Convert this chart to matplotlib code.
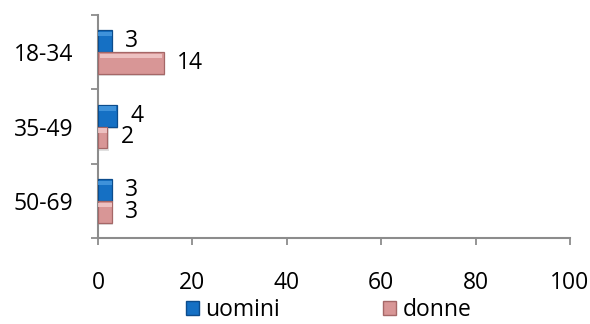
import matplotlib
matplotlib.use("Agg")
import matplotlib.pyplot as plt
from matplotlib.patches import Patch
import numpy as np

plt.rcParams['font.family'] = ['Open Sans', 'DejaVu Sans']

categories = ["18-34", "35-49", "50-69"]
uomini = [3, 4, 3]
donne = [14, 2, 3]
xticks = [0, 20, 40, 60, 80, 100]

blue = "#1570C4"
blue_light = "#4A9BE0"
blue_edge = "#0C4C8C"
pink = "#D89696"
pink_light = "#F3CCCC"
pink_edge = "#A56767"
grey = "#8C8C8C"
FS = 16.5

fig = plt.figure(figsize=(5.9, 3.24), dpi=100)
ax = fig.add_axes([98 / 590, 1 - 238 / 324, 472 / 590, 223 / 324])

y = np.arange(len(categories))
h = 0.295


def bevel_bars(centers, values, face, light, edge):
    # soft drop shadow, body, and a light top strip for a bevelled look
    ax.barh(centers + 0.03, values, left=0.25, height=h, color="#000000", alpha=0.12,
            linewidth=0, zorder=2)
    ax.barh(centers, values, height=h, color=face, edgecolor=edge, linewidth=0.9, zorder=3)
    vals = np.asarray(values, dtype=float)
    ax.barh(centers - h * 0.32, vals * 0.94, left=vals * 0.03, height=h * 0.2,
            color=light, linewidth=0, alpha=0.8, zorder=4)


bevel_bars(y - h / 2, uomini, blue, blue_light, blue_edge)
bevel_bars(y + h / 2, donne, pink, pink_light, pink_edge)

for yi, v in zip(y, uomini):
    ax.annotate(str(v), (v, yi - h / 2), xytext=(9.5, 0), textcoords="offset points",
                ha="left", va="center", fontsize=FS, color="black")
for yi, v in zip(y, donne):
    ax.annotate(str(v), (v, yi + h / 2), xytext=(9.5, 0), textcoords="offset points",
                ha="left", va="center", fontsize=FS, color="black")

ax.set_xlim(0, 100)
ax.set_ylim(2.5, -0.5)
ax.set_xticks(xticks)
ax.set_xticklabels([str(t) for t in xticks], fontsize=FS)
ax.set_yticks([-0.5, 0.5, 1.5, 2.5])
ax.set_yticklabels([])
ax.set_yticks(y, minor=True)
ax.set_yticklabels(categories, minor=True, fontsize=FS)
ax.tick_params(axis="y", which="minor", length=0, pad=18)
ax.tick_params(axis="y", which="major", length=5, width=1.3, color=grey, direction="out")
ax.tick_params(axis="x", length=5, width=1.3, color=grey, direction="out", pad=19)

for s in ["top", "right"]:
    ax.spines[s].set_visible(False)
for s in ["left", "bottom"]:
    ax.spines[s].set_color(grey)
    ax.spines[s].set_linewidth(1.5)

handles = [Patch(facecolor=blue, edgecolor=blue_edge, label="uomini"),
           Patch(facecolor=pink, edgecolor=pink_edge, label="donne")]
fig.legend(handles=handles, loc="center left", bbox_to_anchor=(186 / 590, 1 - 310 / 324),
           ncol=2, frameon=False, fontsize=FS, handlelength=0.55, handleheight=0.55,
           handletextpad=0.3, columnspacing=4.5, borderpad=0, borderaxespad=0)

fig.savefig("out.png", dpi=100)
